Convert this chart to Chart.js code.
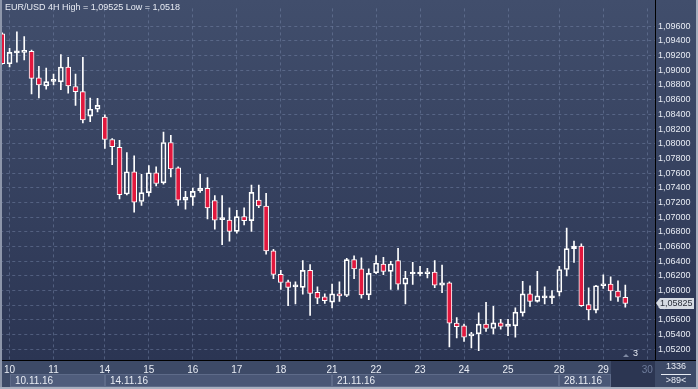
<!DOCTYPE html>
<html><head><meta charset="utf-8">
<script src="https://cdn.jsdelivr.net/npm/chart.js@4.4.0/dist/chart.umd.min.js"></script>
<style>html,body{margin:0;padding:0;background:#3e4b68;overflow:hidden}#wrap{width:698px;height:389px;position:relative}</style>
</head><body><div id="wrap"><canvas id="c" width="698" height="389"></canvas></div>
<script>
// ---- data (EUR/USD 4H) ----
const opens  = [1.09498,1.09089,1.09238,1.09245,1.09258,1.08899,1.08788,1.08850,1.08842,1.09045,
1.08779,1.08709,1.08376,1.08469,1.08363,1.08057,1.07950,1.07315,1.07618,1.07213,
1.07333,1.07604,1.07466,1.08017,1.07671,1.07232,1.07272,1.07359,1.07391,1.07226,
1.06965,1.06960,1.06806,1.07006,1.06952,1.07232,1.07152,1.06540,1.06221,1.06118,
1.06050,1.06042,1.06274,1.05976,1.05914,1.05843,1.05954,1.05932,1.06420,1.06295,
1.05941,1.06242,1.06362,1.06260,1.06407,1.06087,1.06225,1.06225,1.06228,1.06251,
1.06074,1.06105,1.05555,1.05519,1.05382,1.05409,1.05542,1.05483,1.05559,1.05510,
1.05519,1.05696,1.05954,1.05852,1.05900,1.05900,1.05976,1.06287,1.06570,1.06606,
1.05808,1.05732,1.06065,1.06087,1.05994,1.05909];
const highs  = [1.09511,1.09298,1.09525,1.09458,1.09275,1.09054,1.09032,1.08948,1.09214,1.09178,
1.08948,1.09178,1.08623,1.08619,1.08393,1.08070,1.08047,1.07878,1.07834,1.07582,
1.07701,1.07684,1.08158,1.08114,1.07684,1.07351,1.07395,1.07582,1.07538,1.07293,
1.07293,1.07125,1.07093,1.07125,1.07435,1.07435,1.07325,1.06561,1.06274,1.06141,
1.06118,1.06407,1.06354,1.06052,1.05954,1.06087,1.06118,1.06437,1.06473,1.06447,
1.06295,1.06477,1.06451,1.06397,1.06574,1.06260,1.06384,1.06331,1.06304,1.06407,
1.06348,1.06118,1.05630,1.05542,1.05430,1.05696,1.05839,1.05785,1.05608,1.05608,
1.05763,1.06127,1.06065,1.06260,1.06052,1.05998,1.06331,1.06850,1.06673,1.06637,
1.06038,1.06070,1.06215,1.06185,1.06131,1.06074];
const lows   = [1.09085,1.09045,1.09112,1.09142,1.08677,1.08623,1.08743,1.08802,1.08735,1.08690,
1.08522,1.08283,1.08300,1.08433,1.07937,1.07715,1.07249,1.07302,1.07067,1.07160,
1.07285,1.07426,1.07449,1.07546,1.07160,1.07107,1.07160,1.07338,1.06974,1.06837,
1.06624,1.06673,1.06783,1.06894,1.06806,1.07129,1.06495,1.06162,1.06016,1.05795,
1.05816,1.05949,1.05662,1.05821,1.05825,1.05763,1.05852,1.05918,1.06162,1.05896,
1.05875,1.06228,1.06215,1.06016,1.06016,1.05816,1.06082,1.06198,1.06171,1.06038,
1.05972,1.05231,1.05356,1.05306,1.05217,1.05180,1.05443,1.05409,1.05475,1.05386,
1.05364,1.05652,1.05785,1.05843,1.05816,1.05821,1.05928,1.06198,1.06384,1.05785,
1.05599,1.05696,1.06029,1.05865,1.05852,1.05772];
const closes = [1.09089,1.09245,1.09245,1.09262,1.08890,1.08802,1.08846,1.08855,1.09045,1.08788,
1.08709,1.08323,1.08469,1.08522,1.08057,1.07961,1.07306,1.07618,1.07205,1.07333,
1.07604,1.07458,1.08017,1.07657,1.07232,1.07272,1.07351,1.07391,1.07125,1.06960,
1.06970,1.06806,1.07006,1.06952,1.07338,1.07152,1.06540,1.06221,1.06109,1.06042,
1.06055,1.06274,1.05962,1.05896,1.05861,1.05954,1.05928,1.06420,1.06295,1.05941,
1.06234,1.06371,1.06260,1.06362,1.06087,1.06171,1.06230,1.06230,1.06251,1.06074,
1.06105,1.05555,1.05506,1.05364,1.05409,1.05542,1.05483,1.05559,1.05510,1.05542,
1.05706,1.05954,1.05852,1.05928,1.05905,1.05905,1.06287,1.06570,1.06606,1.05795,
1.05736,1.06065,1.06087,1.05994,1.05909,1.05825];
const dayIdx    = [1,7,14,20,26,32,38,45,51,57,63,69,76,82,88];
const dayLabels = ['10','11','14','15','16','17','18','21','22','23','24','25','28','29','30'];
const weekIdx    = [1,14,45,76];
const weekLabels = ['10.11.16','14.11.16','21.11.16','28.11.16'];
const yTicks = [1.052,1.054,1.056,1.058,1.060,1.062,1.064,1.066,1.068,1.070,1.072,
                1.074,1.076,1.078,1.080,1.082,1.084,1.086,1.088,1.090,1.092,1.094,1.096];
const titleText = 'EUR/USD 4H High = 1,09525 Low = 1,0518';
const lastPrice = 1.05825;
const barCountText = '1336';
const visibleText = '>89<';
const markerText = '3';

// ---- derived tables ----
const idx = opens.map((_, i) => i);
const bodyData = idx.map(i => ({x: i, y: [opens[i], closes[i]]}));
const wickLo = idx.map(i => ({x: i, y: [lows[i], Math.min(opens[i], closes[i])]}));
const wickHi = idx.map(i => ({x: i, y: [Math.max(opens[i], closes[i]), highs[i]]}));
const RED = '#e2173d';
const bodyFill = idx.map(i => closes[i] < opens[i] ? RED : 'rgba(0,0,0,0)');
const FONT = "'Liberation Sans', Arial, sans-serif";
const TXT = '#e8ecf4';

const decor = {
  id: 'decor',
  beforeDraw(chart) {
    const c = chart.ctx, a = chart.chartArea;
    c.save();
    c.fillStyle = '#3e4b68';
    c.fillRect(0, 0, 698, 389);
    const g = c.createLinearGradient(0, 0, 0, a.bottom);
    g.addColorStop(0, '#414e6c');
    g.addColorStop(1, '#2b3553');
    c.fillStyle = g;
    c.fillRect(0, 0, 698, a.bottom);
    c.fillStyle = '#3d4a67';
    c.fillRect(0, a.bottom, 698, 389 - a.bottom);
    const xs = chart.scales.x;
    const rowTop = a.bottom + 14, rowH = 13;
    const ends = weekIdx.slice(1).map(v => xs.getPixelForValue(v));
    ends.push(xs.getPixelForValue(83));
    weekIdx.forEach((w, k) => {
      const x0 = Math.round(xs.getPixelForValue(w)), x1 = Math.round(ends[k]);
      c.fillStyle = k === 0 ? '#505d7c' : '#4a5776';
      c.fillRect(x0, rowTop, x1 - x0, rowH);
      c.strokeStyle = '#5e6b89';
      c.lineWidth = 1;
      c.strokeRect(x0 + 0.5, rowTop + 0.5, x1 - x0 - 1, rowH - 1);
    });
    const xd = Math.round(ends[ends.length - 1]);
    c.fillStyle = '#2c3652';
    c.fillRect(xd, a.bottom + 1, a.right - xd, 389 - a.bottom - 3);
    c.restore();
  },
  afterDraw(chart) {
    const c = chart.ctx, a = chart.chartArea, ys = chart.scales.y, xs = chart.scales.x;
    c.save();
    c.fillStyle = '#000000';
    c.fillRect(a.right, 0, 1, a.bottom);
    c.fillRect(0, a.bottom, 698, 1);
    c.fillStyle = '#8d96aa';
    c.fillRect(0, 0, 2, 389);
    c.fillStyle = '#a7afbf';
    c.fillRect(0, 387, 698, 2);
    c.fillRect(696, 0, 2, 389);
    c.font = '9px ' + FONT;
    c.fillStyle = TXT;
    c.textBaseline = 'middle';
    c.textAlign = 'left';
    c.fillText(titleText, 5, 8);
    c.font = '10px ' + FONT;
    weekIdx.forEach((w, k) => {
      c.fillText(weekLabels[k], Math.round(xs.getPixelForValue(w)) + 5, a.bottom + 21);
    });
    c.font = '9px ' + FONT;
    c.fillText(markerText, a.right - 22, a.bottom - 6);
    c.fillStyle = '#7f8aa3';
    c.beginPath();
    c.moveTo(a.right - 32, a.bottom - 3);
    c.lineTo(a.right - 29, a.bottom - 6);
    c.lineTo(a.right - 26, a.bottom - 3);
    c.closePath();
    c.fill();
    const py = Math.round(ys.getPixelForValue(lastPrice));
    c.fillStyle = '#d6dbe3';
    c.beginPath();
    c.moveTo(a.right + 1, py);
    c.lineTo(a.right + 5, py - 5);
    c.lineTo(694, py - 5);
    c.lineTo(694, py + 6);
    c.lineTo(a.right + 5, py + 6);
    c.closePath();
    c.fill();
    c.fillStyle = '#2a2f3a';
    c.font = '9px ' + FONT;
    c.fillText(lastPrice.toFixed(5).replace('.', ','), a.right + 5, py + 0.5);
    c.fillStyle = TXT;
    c.textAlign = 'center';
    c.fillText(barCountText, 676, a.bottom + 7);
    c.fillRect(661, a.bottom + 14, 30, 1);
    c.fillText(visibleText, 676, a.bottom + 21);
    c.restore();
  }
};

new Chart(document.getElementById('c'), {
  type: 'bar',
  data: {
    datasets: [
      {data: wickLo, backgroundColor: '#ffffff', borderWidth: 0, barThickness: 1, grouped: false, order: 3},
      {data: wickHi, backgroundColor: '#ffffff', borderWidth: 0, barThickness: 1, grouped: false, order: 2},
      {data: bodyData, backgroundColor: bodyFill, borderColor: '#ffffff', borderWidth: 1,
       borderSkipped: false, barThickness: 5, grouped: false, minBarLength: 2, order: 1}
    ]
  },
  options: {
    responsive: false,
    devicePixelRatio: 1,
    animation: false,
    layout: {padding: 0},
    plugins: {legend: {display: false}, tooltip: {enabled: false}, title: {display: false}},
    scales: {
      x: {
        type: 'linear', position: 'bottom', min: -0.27, max: 89.05, offset: false,
        afterBuildTicks: s => { s.ticks = dayIdx.map(v => ({value: v})); },
        afterFit: s => { s.height = 29; },
        grid: {color: 'rgba(125,140,175,0.45)', drawTicks: false, tickLength: 0, offset: false},
        border: {display: false, dash: [3, 3]},
        ticks: {
          autoSkip: false, maxRotation: 0, padding: 4,
          font: {family: FONT, size: 10},
          color: c => (c.tick && c.tick.value === 88) ? '#6f7d9c' : TXT,
          callback: v => { const k = dayIdx.indexOf(v); return k >= 0 ? dayLabels[k] : ''; }
        }
      },
      y: {
        type: 'linear', position: 'right', min: 1.050536, max: 1.098434,
        afterBuildTicks: s => { s.ticks = yTicks.map(v => ({value: v})); },
        afterFit: s => { s.width = 43; },
        grid: {color: 'rgba(125,140,175,0.45)', drawTicks: false, tickLength: 0},
        border: {display: false, dash: [3, 3]},
        ticks: {
          padding: 3, font: {family: FONT, size: 9}, color: TXT,
          callback: v => v.toFixed(5).replace('.', ',')
        }
      }
    }
  },
  plugins: [decor]
});
</script></body></html>
